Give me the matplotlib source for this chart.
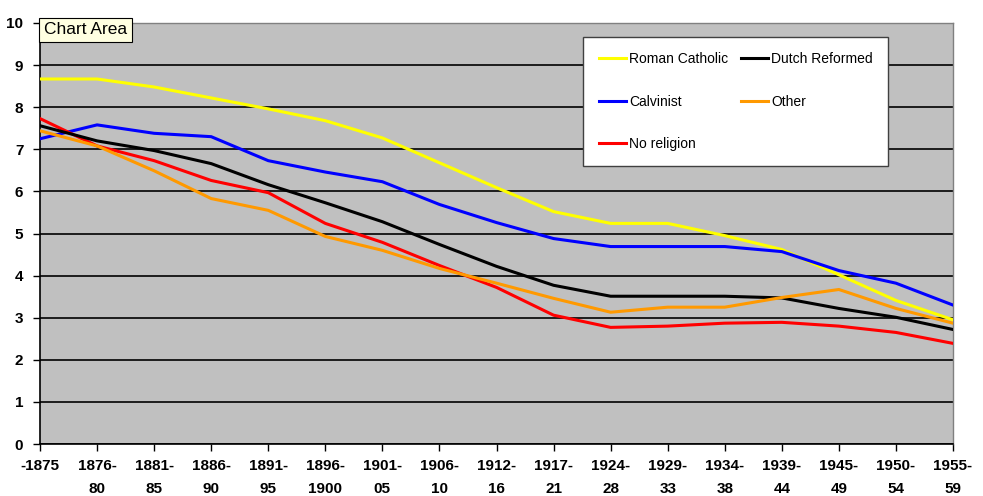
import matplotlib
matplotlib.use("Agg")
import matplotlib.pyplot as plt

plt.rcParams['font.family'] = ['Liberation Sans', 'DejaVu Sans']

periods = ['-1875', '1876-\n80', '1881-\n85', '1886-\n90', '1891-\n95', '1896-\n1900',
           '1901-\n05', '1906-\n10', '1912-\n16', '1917-\n21', '1924-\n28', '1929-\n33',
           '1934-\n38', '1939-\n44', '1945-\n49', '1950-\n54', '1955-\n59']

roman_catholic = [8.67, 8.67, 8.48, 8.22, 7.96, 7.68, 7.27, 6.68, 6.09, 5.52, 5.24, 5.24,
                  4.95, 4.62, 4.02, 3.41, 2.95]
calvinist = [7.25, 7.58, 7.38, 7.30, 6.73, 6.46, 6.23, 5.69, 5.26, 4.88, 4.69, 4.69,
             4.69, 4.57, 4.12, 3.82, 3.30]
dutch_reformed = [7.56, 7.20, 6.97, 6.66, 6.16, 5.73, 5.28, 4.74, 4.22, 3.77, 3.51, 3.51,
                  3.51, 3.47, 3.22, 3.01, 2.72]
other = [7.44, 7.08, 6.49, 5.83, 5.55, 4.93, 4.60, 4.17, 3.82, 3.46, 3.13, 3.25,
         3.25, 3.48, 3.67, 3.22, 2.87]
no_religion = [7.73, 7.08, 6.73, 6.26, 5.97, 5.24, 4.79, 4.24, 3.72, 3.06, 2.77, 2.80,
               2.87, 2.89, 2.80, 2.65, 2.39]

fig = plt.figure(figsize=(9.83, 4.96), dpi=100)
ax = fig.add_axes([40 / 983, 1 - 444 / 496, 913 / 983, 421 / 496])
ax.set_facecolor('#C0C0C0')

x = list(range(len(periods)))
lw = 2.2
ax.plot(x, roman_catholic, color='#FFFF00', lw=lw, label='Roman Catholic', zorder=3)
ax.plot(x, calvinist, color='#0000FF', lw=lw, label='Calvinist', zorder=3)
ax.plot(x, no_religion, color='#FF0000', lw=lw, label='No religion', zorder=3)
ax.plot(x, dutch_reformed, color='#000000', lw=lw, label='Dutch Reformed', zorder=3)
ax.plot(x, other, color='#FF9900', lw=lw, label='Other', zorder=3)

ax.set_xlim(0, len(periods) - 1)
ax.set_ylim(0, 10)
ax.set_yticks(range(0, 11))
ax.set_xticks(x)
ax.set_xticklabels(periods, fontsize=11, fontweight='bold', linespacing=1.75)
ax.tick_params(axis='y', labelsize=11, length=5, width=1, direction='out', pad=7)
ax.tick_params(axis='x', length=5, width=1, direction='out', pad=6)
for t in ax.get_yticklabels():
    t.set_fontweight('bold')

ax.grid(axis='y', color='#000000', lw=1.2, zorder=1)
for s in ['top', 'right']:
    ax.spines[s].set_color('#808080')
    ax.spines[s].set_linewidth(1)
for s in ['left', 'bottom']:
    ax.spines[s].set_color('#000000')
    ax.spines[s].set_linewidth(1.2)

leg = ax.legend(ncol=2, loc='upper left', bbox_to_anchor=(0.595, 0.967),
                fontsize=10, frameon=True, fancybox=False, borderpad=1.1,
                labelspacing=2.05, handlelength=2.0, handletextpad=0.2,
                columnspacing=0.9, borderaxespad=0)
leg.get_frame().set_facecolor('white')
leg.get_frame().set_edgecolor('#404040')
leg.get_frame().set_linewidth(1.0)
leg.get_frame().set_alpha(1)
leg.set_zorder(5)

# "Chart Area" tooltip label
fig.text(44 / 983, 1 - 30 / 496, 'Chart Area', fontsize=12.5, va='center', ha='left',
         bbox=dict(boxstyle='square,pad=0.28', fc='#FFFFE1', ec='#000000', lw=0.8),
         zorder=10)

fig.savefig('out.png', dpi=100)
